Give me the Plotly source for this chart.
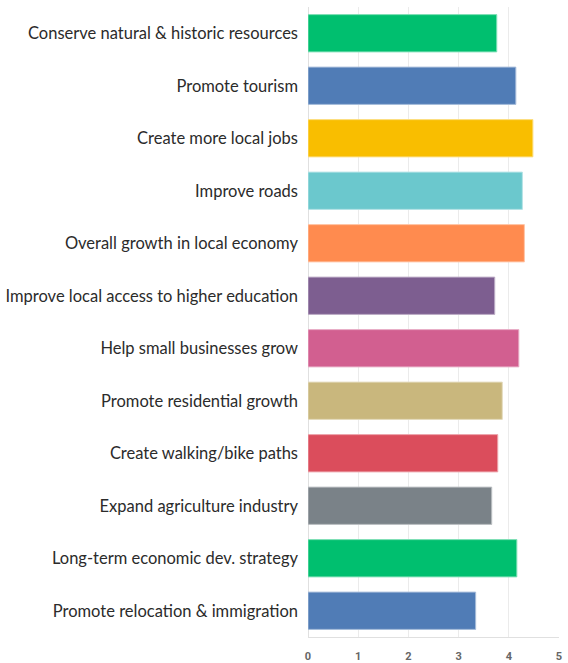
import plotly.graph_objects as go

categories = [
    "Conserve natural & historic resources",
    "Promote tourism",
    "Create more local jobs",
    "Improve roads",
    "Overall growth in local economy",
    "Improve local access to higher education",
    "Help small businesses grow",
    "Promote residential growth",
    "Create walking/bike paths",
    "Expand agriculture industry",
    "Long-term economic dev. strategy",
    "Promote relocation & immigration",
]
scores = [3.76, 4.14, 4.48, 4.27, 4.31, 3.72, 4.20, 3.87, 3.78, 3.66, 4.16, 3.34]
colors = [
    "#00BF6F", "#507CB6", "#F9BE00", "#6BC8CD", "#FF8B4F", "#7D5E90",
    "#D25F90", "#C9B77D", "#DB4D5C", "#7A8288", "#00BF6F", "#507CB6",
]
edge_colors = [
    "#80DFB7", "#A7BDDA", "#FCDE80", "#B5E3E6", "#FFC5A7", "#BEAEC7",
    "#E8AFC7", "#E4DBBE", "#EDA6AD", "#BCC0C3", "#80DFB7", "#A7BDDA",
]
x_ticks = [0, 1, 2, 3, 4, 5]

fig = go.Figure(
    go.Bar(
        x=scores,
        y=categories,
        orientation="h",
        marker=dict(color=colors, line=dict(color=edge_colors, width=1)),
        hoverinfo="x+y",
    )
)

fig.update_layout(
    width=568,
    height=663,
    margin=dict(l=308, r=9, t=7, b=26),
    paper_bgcolor="white",
    plot_bgcolor="white",
    bargap=0.29,
    showlegend=False,
    font=dict(family="Lato, sans-serif", color="#333333"),
)

fig.update_xaxes(
    range=[0, 5],
    tickvals=x_ticks,
    ticktext=[str(t) for t in x_ticks],
    showgrid=True,
    gridcolor="#EBEBEB",
    gridwidth=1,
    zeroline=True,
    zerolinecolor="#E0E0E0",
    zerolinewidth=1,
    showline=True,
    linecolor="#E0E0E0",
    ticks="outside",
    ticklen=9,
    tickcolor="rgba(0,0,0,0)",
    automargin=False,
    tickfont=dict(family="Roboto, sans-serif", size=11, color="#666666", weight="bold"),
)

fig.update_yaxes(
    autorange="reversed",
    showgrid=False,
    ticks="",
    ticklabelstandoff=9,
    automargin=False,
    tickfont=dict(family="Lato, sans-serif", size=16.5, color="#2B2B2B"),
)

fig.write_html("out.html")
